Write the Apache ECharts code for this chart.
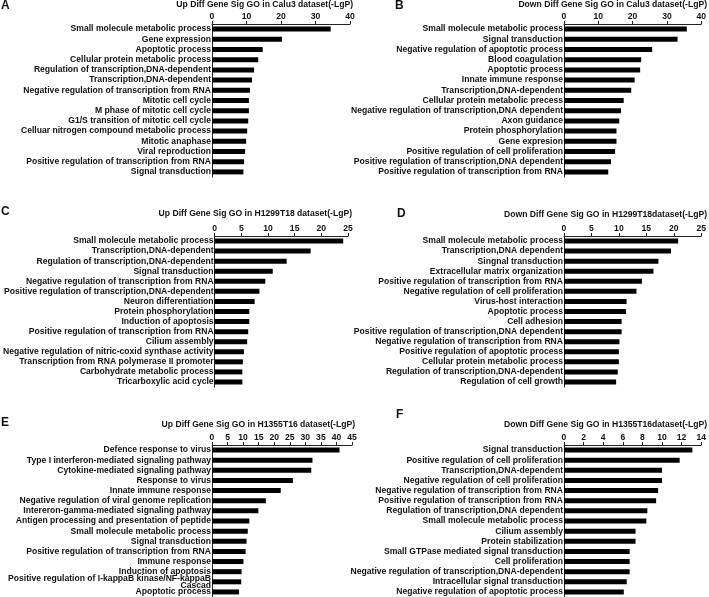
<!DOCTYPE html>
<html>
<head>
<meta charset="utf-8">
<script src="https://cdn.jsdelivr.net/npm/echarts@6/dist/echarts.min.js"></script>
<style>
html,body{margin:0;padding:0;background:#fff;}
#chart{width:709px;height:597px;}
</style>
</head>
<body>
<div id="chart"></div>
<script>
// ---- Data ----
const titleA = 'Up Diff Gene Sig GO in Calu3 dataset(-LgP)';
const catsA = ['Small molecule metabolic process','Gene expression','Apoptotic process','Cellular protein metabolic process','Regulation of transcription,DNA-dependent','Transcription,DNA-dependent','Negative regulation of transcription from RNA','Mitotic cell cycle','M phase of mitotic cell cycle','G1/S transition of mitotic cell cycle','Celluar nitrogen compound metabolic process','Mitotic anaphase','Viral reproduction','Positive regulation of transcription from RNA','Signal transduction'];
const valsA = [34.4,20.3,14.7,13.4,12.2,11.6,11.0,10.7,10.7,10.5,10.2,9.9,9.6,9.3,9.1];
const ticksA = [0,10,20,30,40];

const titleB = 'Down Diff Gene Sig GO in Calu3 dataset(-LgP)';
const catsB = ['Small molecule metabolic process','Signal transduction','Negative regulation of apoptotic process','Blood coagulation','Apoptotic process','Innate immune response','Transcription,DNA-dependent','Cellular protein metabolic precess','Negative regulation of transcription,DNA dependent','Axon guidance','Protein phosphorylation','Gene expresion','Positive regulation of cell proliferation','Positive regulation of transcription,DNA dependent','Positive regulation of transcription from RNA'];
const valsB = [35.8,33.1,25.7,22.5,22.2,20.6,19.6,17.4,16.6,16.1,15.3,15.3,14.9,13.7,12.9];
const ticksB = [0,10,20,30,40];

const titleC = 'Up Diff Gene Sig GO in H1299T18 dataset(-LgP)';
const catsC = ['Small molecule metabolic process','Transcription,DNA-dependent','Regulation of transcription,DNA-dependent','Signal transduction','Negative regulation of transcription from RNA','Positive regulation of transcription,DNA-dependent','Neuron differentiation','Protein phosphorylation','Induction of apoptosis','Positive regulation of transcription from RNA','Cilium assembly','Negative regulation of nitric-coxid synthase activity','Transcription from RNA polymerase II promoter','Carbohydrate metabolic process','Tricarboxylic acid cycle'];
const valsC = [24.1,18.0,13.5,10.9,9.5,8.4,7.5,6.5,6.5,6.3,6.1,5.5,5.3,5.2,5.2];
const ticksC = [0,5,10,15,20,25];

const titleD = 'Down Diff Gene Sig GO in H1299T18dataset(-LgP)';
const catsD = ['Small molecule metabolic process','Transcription,DNA dependent','Singnal transduction','Extracellular matrix organization','Positive regulation of transcription from RNA','Negative regulation of cell proliferation','Virus-host interaction','Apoptotic process','Cell adhesion','Positive regulation of transcription,DNA dependent','Negative regulation of transcription from RNA','Positive regulation of apoptotic process','Cellular protein metabolic process','Regulation of transcription,DNA-dependent','Regulation of cell growth'];
const valsD = [20.8,19.5,17.2,16.3,14.2,13.2,11.4,11.3,10.5,10.5,10.1,10.0,10.0,9.8,9.5];
const ticksD = [0,5,10,15,20,25];

const titleE = 'Up Diff Gene Sig GO in H1355T16 dataset(-LgP)';
const catsE = ['Defence response to virus','Type I interferon-mediated signaling pathway','Cytokine-mediated signaling pathway','Response to virus','Innate immune response','Negative regulation of viral genome replication','Intereron-gamma-mediated signaling pathway','Antigen processing and presentation of peptide','Small molecule metabolic process','Signal transduction','Positive regulation of transcription from RNA','Immune response','Induction of apoptosis','Positive regulation of I-kappaB kinase/NF-kappaB\nCascad','Apoptotic process'];
const valsE = [41.0,32.3,31.9,26.0,22.1,17.3,14.9,12.0,11.5,11.1,10.8,10.1,9.5,9.4,8.7];
const ticksE = [0,5,10,15,20,25,30,35,40,45];

const titleF = 'Down Diff Gene Sig GO in H1355T16dataset(-LgP)';
const catsF = ['Signal transduction','Positive regulation of cell proliferation','Transcription,DNA-dependent','Negative regulation of cell proliferation','Negative regulation of transcription from RNA','Positive regulation of transcription from RNA','Regulation of transcription,DNA dependent','Small molecule metabolic process','Cilium assembly','Protein stabilization','Small GTPase mediated signal transduction','Cell proliferation','Negative regulation of transcription,DNA-dependent','Intracellular signal transduction','Negative regulation of apoptotic process'];
const valsF = [13.1,11.8,10.0,10.0,9.6,9.4,8.5,8.4,7.3,7.3,6.7,6.7,6.7,6.4,6.1];
const ticksF = [0,2,4,6,8,10,12,14];

const letters = ['A','B','C','D','E','F'];

// ---- Layout ----
const panels = [
  {title:titleA, cats:catsA, vals:valsA, ticks:ticksA, grid:{left:212, top:24, width:138, height:153}, titleRight:356, titleTop:0, letterLeft:1, letterTop:0},
  {title:titleB, cats:catsB, vals:valsB, ticks:ticksB, grid:{left:564, top:24, width:139, height:153}, titleRight:2, titleTop:0, letterLeft:395, letterTop:0},
  {title:titleC, cats:catsC, vals:valsC, ticks:ticksC, grid:{left:212, top:236, width:136, height:151}, titleRight:357, titleTop:209, letterLeft:1, letterTop:206},
  {title:titleD, cats:catsD, vals:valsD, ticks:ticksD, grid:{left:564, top:236, width:140, height:151}, titleRight:2, titleTop:210, letterLeft:397, letterTop:208},
  {title:titleE, cats:catsE, vals:valsE, ticks:ticksE, grid:{left:212, top:445, width:140, height:152}, titleRight:354, titleTop:420, letterLeft:1, letterTop:417},
  {title:titleF, cats:catsF, vals:valsF, ticks:ticksF, grid:{left:564, top:445, width:139, height:152}, titleRight:2, titleTop:420, letterLeft:396, letterTop:409}
];

const FONT = 'Liberation Sans, Arial, sans-serif';
const option = {
  animation:false,
  backgroundColor:'#fff',
  title:[], grid:[], xAxis:[], yAxis:[], series:[]
};
panels.forEach((p,i)=>{
  option.title.push({text:p.title, right:p.titleRight, top:p.titleTop, padding:0,
    textStyle:{fontFamily:FONT, fontSize:8.6, fontWeight:'bold', color:'#111'}});
  option.title.push({text:letters[i], left:p.letterLeft, top:p.letterTop, padding:0,
    textStyle:{fontFamily:FONT, fontSize:12, fontWeight:'bold', color:'#111'}});
  option.grid.push(Object.assign({containLabel:false}, p.grid));
  const step = p.ticks[1]-p.ticks[0];
  option.xAxis.push({type:'value', gridIndex:i, position:'top', min:p.ticks[0], max:p.ticks[p.ticks.length-1], interval:step,
    splitLine:{show:false},
    axisLine:{show:true, lineStyle:{color:'#222', width:1}},
    axisTick:{show:true, length:3, lineStyle:{color:'#222'}},
    axisLabel:{margin:3, fontFamily:FONT, fontSize:8.6, fontWeight:'bold', color:'#111'}});
  option.yAxis.push({type:'category', gridIndex:i, data:p.cats, inverse:true,
    axisLine:{show:true, lineStyle:{color:'#222', width:1}},
    axisTick:{show:false},
    axisLabel:{margin:1, interval:0, fontFamily:FONT, fontSize:8.6, fontWeight:'bold', color:'#111', lineHeight:7}});
  option.series.push({type:'bar', xAxisIndex:i, yAxisIndex:i, data:p.vals, barWidth:5,
    itemStyle:{color:'#000'}, silent:true});
});

const chart = echarts.init(document.getElementById('chart'), null, {renderer:'canvas'});
chart.setOption(option);
</script>
</body>
</html>
